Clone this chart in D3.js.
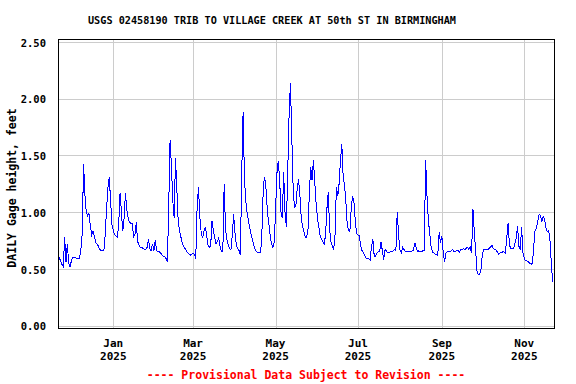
<!DOCTYPE html>
<html>
<head>
<meta charset="utf-8">
<script src="https://cdn.jsdelivr.net/npm/d3@7"></script>
<style>
  body { margin: 0; background: #fff; }
  svg { display: block; }
  text { font-family: "DejaVu Sans Mono", monospace; font-weight: bold; }
</style>
</head>
<body>
<svg id="chart"></svg>
<script>
var chartTitle = "USGS 02458190 TRIB TO VILLAGE CREEK AT 50th ST IN BIRMINGHAM";
var yLabel = "DAILY Gage height, feet";
var footNote = "---- Provisional Data Subject to Revision ----";

// daily values, first one is 2024-11-22
var firstDay = "2024-11-22";
var gageHeight = [
    0.60, 0.57, 0.54, 0.52, 0.78, 0.56, 0.72, 0.55, 0.52, 0.57,
    0.60, 0.60, 0.60, 0.59, 0.59, 0.59, 0.67, 0.81, 1.42, 1.15,
    1.00, 0.97, 0.99, 0.88, 0.80, 0.83, 0.79, 0.73, 0.72, 0.70,
    0.67, 0.66, 0.66, 0.66, 0.80, 1.03, 1.21, 1.31, 1.10, 0.89,
    0.84, 0.80, 0.79, 0.78, 0.90, 1.17, 1.00, 0.83, 0.95, 1.17,
    1.02, 0.95, 0.91, 0.90, 0.90, 0.78, 0.80, 0.91, 0.74, 0.71,
    0.69, 0.69, 0.68, 0.67, 0.67, 0.69, 0.76, 0.68, 0.66, 0.72,
    0.66, 0.75, 0.66, 0.65, 0.65, 0.64, 0.62, 0.61, 0.61, 0.59,
    0.56, 1.06, 1.64, 1.40, 1.10, 0.95, 1.48, 1.20, 0.92, 0.83,
    0.78, 0.73, 0.70, 0.68, 0.66, 0.64, 0.63, 0.62, 0.63, 0.64,
    0.63, 0.59, 1.05, 1.22, 0.96, 0.82, 0.77, 0.83, 0.87, 0.80,
    0.71, 0.69, 0.70, 0.92, 0.84, 0.78, 0.72, 0.74, 0.77, 0.70,
    0.65, 0.65, 1.25, 0.85, 0.76, 0.71, 0.68, 0.67, 0.80, 0.98,
    0.82, 0.71, 0.68, 0.66, 0.62, 1.35, 1.88, 1.30, 1.10, 0.99,
    0.92, 0.86, 0.80, 0.75, 0.70, 0.67, 0.65, 0.64, 0.64, 0.64,
    0.85, 1.24, 1.31, 1.20, 1.00, 0.90, 0.80, 0.72, 0.69, 0.73,
    1.00, 1.34, 1.45, 1.30, 1.00, 0.95, 1.35, 1.00, 0.87, 1.34,
    1.85, 2.14, 1.67, 1.22, 1.04, 1.05, 1.20, 1.29, 1.15, 0.95,
    0.87, 0.83, 0.78, 0.78, 0.85, 1.17, 1.40, 1.28, 1.46, 1.27,
    1.08, 0.95, 0.87, 0.79, 0.76, 0.74, 0.72, 0.80, 1.03, 1.18,
    0.85, 0.74, 0.70, 0.67, 0.80, 1.22, 1.14, 1.25, 1.45, 1.60,
    1.32, 1.24, 1.10, 0.90, 0.84, 0.83, 1.04, 1.14, 1.09, 0.92,
    0.81, 0.80, 0.79, 0.70, 0.66, 0.64, 0.62, 0.59, 0.59, 0.59,
    0.58, 0.70, 0.76, 0.61, 0.61, 0.64, 0.65, 0.65, 0.74, 0.66,
    0.58, 0.67, 0.66, 0.64, 0.64, 0.65, 0.65, 0.66, 0.67, 0.66,
    1.00, 0.80, 0.67, 0.64, 0.69, 0.67, 0.65, 0.65, 0.65, 0.65,
    0.65, 0.66, 0.66, 0.73, 0.69, 0.65, 0.66, 0.65, 0.65, 0.66,
    0.66, 1.46, 1.15, 0.93, 0.82, 0.70, 0.65, 0.64, 0.63, 0.63,
    0.62, 0.82, 0.73, 0.79, 0.65, 0.56, 0.64, 0.65, 0.65, 0.65,
    0.66, 0.67, 0.65, 0.65, 0.66, 0.66, 0.65, 0.67, 0.67, 0.68,
    0.67, 0.68, 0.69, 0.67, 0.69, 0.64, 1.03, 0.83, 0.66, 0.48,
    0.45, 0.45, 0.50, 0.63, 0.67, 0.67, 0.67, 0.67, 0.68, 0.69,
    0.71, 0.68, 0.67, 0.67, 0.65, 0.63, 0.64, 0.64, 0.65, 0.65,
    0.64, 0.77, 0.90, 0.71, 0.68, 0.68, 0.68, 0.72, 0.77, 0.88,
    0.70, 0.67, 0.87, 0.64, 0.59, 0.57, 0.57, 0.56, 0.55, 0.54,
    0.55, 0.70, 0.84, 0.86, 0.92, 0.98, 0.97, 0.92, 0.96, 0.94,
    0.86, 0.83, 0.84, 0.75, 0.55, 0.38
];

var yTicks = [0, 0.5, 1.0, 1.5, 2.0, 2.5];
var xTicks = ["2025-01-01", "2025-03-01", "2025-05-01", "2025-07-01", "2025-09-01", "2025-11-01"];
var xTickMonth = ["Jan", "Mar", "May", "Jul", "Sep", "Nov"];
var xTickYear = ["2025", "2025", "2025", "2025", "2025", "2025"];

var width = 576, height = 384;
var plot = { left: 58.5, right: 554.5, top: 39.5, bottom: 328.5 };

var parseDay = d3.utcParse("%Y-%m-%d");
var start = parseDay(firstDay);

var data = gageHeight.map(function (v, i) {
    return { date: d3.utcDay.offset(start, i), value: v };
});

var x = d3.scaleUtc()
    .domain([Date.UTC(2024, 10, 21, 11), Date.UTC(2025, 10, 23, 8)])
    .range([plot.left, plot.right]);
var y = d3.scaleLinear()
    .domain([-0.026, 2.522])
    .range([plot.bottom, plot.top]);

var svg = d3.select("#chart")
    .attr("width", width)
    .attr("height", height);

// grid
svg.append("g")
    .selectAll("line")
    .data(yTicks)
    .enter().append("line")
    .attr("x1", plot.left).attr("x2", plot.right)
    .attr("y1", function (d) { return Math.round(y(d)) + 0.5; })
    .attr("y2", function (d) { return Math.round(y(d)) + 0.5; })
    .attr("stroke", "#cccccc");

svg.append("g")
    .selectAll("line")
    .data(xTicks)
    .enter().append("line")
    .attr("x1", function (d) { return Math.round(x(parseDay(d))) + 0.5; })
    .attr("x2", function (d) { return Math.round(x(parseDay(d))) + 0.5; })
    .attr("y1", plot.top).attr("y2", plot.bottom)
    .attr("stroke", "#cccccc");

// the line
var valueline = d3.line()
    .x(function (d) { return x(d.date); })
    .y(function (d) { return y(d.value); });

svg.append("path")
    .datum(data)
    .attr("fill", "none")
    .attr("stroke", "#0000ff")
    .attr("stroke-width", 1)
    .attr("shape-rendering", "crispEdges")
    .attr("d", valueline);

// frame
svg.append("rect")
    .attr("x", plot.left).attr("y", plot.top)
    .attr("width", plot.right - plot.left)
    .attr("height", plot.bottom - plot.top)
    .attr("fill", "none")
    .attr("stroke", "#000");

// y tick labels
svg.append("g")
    .selectAll("text")
    .data(yTicks)
    .enter().append("text")
    .attr("x", 46)
    .attr("y", function (d) { return y(d) + 1; })
    .attr("dy", "0.35em")
    .attr("text-anchor", "end")
    .style("font-size", "10.5px")
    .text(function (d) { return d3.format(".2f")(d); });

// x tick labels
var xl = svg.append("g")
    .selectAll("text")
    .data(xTicks)
    .enter().append("text")
    .attr("text-anchor", "middle")
    .style("font-size", "11px");
xl.append("tspan")
    .attr("x", function (d) { return x(parseDay(d)); })
    .attr("y", 347)
    .text(function (d, i) { return xTickMonth[i]; });
xl.append("tspan")
    .attr("x", function (d) { return x(parseDay(d)); })
    .attr("y", 360)
    .text(function (d, i) { return xTickYear[i]; });

// titles
svg.append("text")
    .attr("x", 272).attr("y", 24)
    .attr("text-anchor", "middle")
    .style("font-size", "10.2px")
    .text(chartTitle);

svg.append("text")
    .attr("transform", "translate(16,188) rotate(-90)")
    .attr("text-anchor", "middle")
    .style("font-size", "11.5px")
    .text(yLabel);

svg.append("text")
    .attr("x", 306).attr("y", 379)
    .attr("text-anchor", "middle")
    .attr("fill", "#ff0000")
    .style("font-size", "11.5px")
    .text(footNote);
</script>
</body>
</html>
